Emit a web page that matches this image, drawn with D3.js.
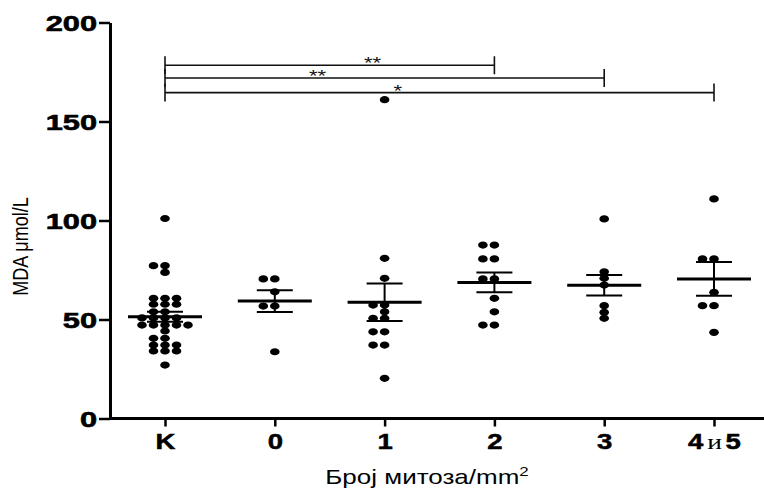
<!DOCTYPE html>
<html><head><meta charset="utf-8">
<script src="https://cdn.jsdelivr.net/npm/d3@7"></script>
<style>body{margin:0;background:#fff}svg{display:block}</style>
</head><body>
<svg id="c" width="764" height="490"></svg>
<script>
const categories = ["K","0","1","2","3","4и5"];
const valuesK  = [101, 77.2, 77.2, 73.8, 60.7, 60.7, 60.7, 57.7, 57.7, 57.7, 53.9, 53.9, 50.8, 50.8, 50.8, 50.8, 47.2, 47.2, 47.2, 47.2, 47.2, 44.2, 40.5, 40.5, 37.1, 37.1, 37.1, 34.1, 34.1, 34.1, 27];
const values0  = [70.5, 70.5, 64, 56.8, 56.8, 33.7];
const values1  = [161, 80.9, 70.8, 57.3, 57.3, 53.9, 50.6, 50.6, 43.8, 43.8, 37.1, 37.1, 20.3];
const values2  = [87.6, 87.6, 80.6, 80.6, 70.5, 70.5, 60.7, 53.9, 47.2, 47.2];
const values3  = [100.8, 74.1, 70.8, 67.4, 57, 53.6, 50.6];
const values45 = [110.9, 80.6, 80.6, 63.7, 57, 57, 43.5];
const seriesValues = [valuesK, values0, values1, values2, values3, values45];
const means = [51.4, 59.3, 58.7, 68.7, 67.3, 70.5];
const sems  = [2.5, 5.5, 9.5, 5.0, 5.2, 8.5];
const yTicks = [0, 50, 100, 150, 200];
const comparisons = [
  {from: "K", to: "2",   level: 178.4, label: "**", labelAt: 1.89},
  {from: "K", to: "3",   level: 172.0, label: "**", labelAt: 1.39},
  {from: "K", to: "4и5", level: 164.6, label: "*",  labelAt: 2.12}
];
const yTitle = "MDA μmol/L";
const xTitle = "Број митоза/mm";

const svg = d3.select("#c");
const x = d3.scalePoint().domain(categories).range([165, 714]);
const y = d3.scaleLinear().domain([0, 200]).range([418.5, 22.5]);
const xi = d3.scaleLinear().domain([0, categories.length - 1]).range(x.range());

// axes
const sxY = 1.4, sxX = 1.25;
const gy = svg.append("g").attr("transform", "translate(110,0)")
  .call(d3.axisLeft(y).tickValues(yTicks).tickSize(11).tickSizeOuter(0));
gy.select(".domain").attr("stroke", "#000").attr("stroke-width", 3);
gy.selectAll(".tick line").attr("stroke", "#000").attr("stroke-width", 2.5);
gy.selectAll(".tick text")
  .attr("x", -13 / sxY).attr("dy", "0.36em")
  .attr("transform", `scale(${sxY},1)`)
  .attr("font-family", "Liberation Sans, Arial, sans-serif")
  .attr("font-weight", "bold").attr("font-size", 22).attr("fill", "#000")
  .attr("stroke", "#000").attr("stroke-width", 0.6);

const gx = svg.append("g").attr("transform", `translate(0,${y(0)})`)
  .call(d3.axisBottom(x).tickSize(8).tickSizeOuter(0));
gx.select(".domain").remove();
gx.selectAll(".tick line").attr("stroke", "#000").attr("stroke-width", 2.5);
gx.selectAll(".tick text").remove();
gx.append("line").attr("x1", 109).attr("x2", 764).attr("y1", 0).attr("y2", 0)
  .attr("stroke", "#000").attr("stroke-width", 3);

gx.selectAll(".tick").each(function(d) {
  const t = d3.select(this).append("text")
    .attr("transform", `translate(0,30) scale(${sxX},1)`)
    .attr("text-anchor", "middle")
    .attr("font-family", "Liberation Sans, Arial, sans-serif")
    .attr("font-weight", "bold").attr("font-size", 22).attr("fill", "#000")
    .attr("stroke", "#000").attr("stroke-width", 0.5);
  if (d.includes("и")) {
    const parts = d.split("и");
    t.append("tspan").text(parts[0]);
    t.append("tspan").attr("dx", 3).attr("font-family", "Liberation Serif, serif")
      .attr("font-weight", "normal").attr("stroke-width", 0).attr("font-size", 22).text("и");
    t.append("tspan").attr("dx", 3).text(parts[1]);
  } else {
    t.text(d);
  }
});

// axis titles
svg.append("text")
  .attr("transform", `translate(28,${(y(0) + y(200)) / 2 + 26}) scale(1.25,1) rotate(-90)`)
  .attr("text-anchor", "middle")
  .attr("font-family", "Liberation Sans, Arial, sans-serif")
  .attr("font-size", 18).attr("fill", "#000").text(yTitle);

const xt = svg.append("text")
  .attr("transform", `translate(427,484) scale(1.3,1)`)
  .attr("text-anchor", "middle")
  .attr("font-family", "Liberation Sans, Arial, sans-serif")
  .attr("font-size", 20).attr("fill", "#000");
xt.append("tspan").text(xTitle);
xt.append("tspan").attr("dy", -8).attr("font-size", 13).text("2");

// beeswarm
function swarm(vals, cx) {
  const s = 11.5, dyMin = 5.5;
  const placed = [];
  vals.slice().sort((a, b) => b - a).forEach(v => {
    const py = y(v);
    for (let k = 0; k < 30; k++) {
      const m = Math.ceil(k / 2) * (k % 2 ? -1 : 1);
      const px = cx + m * s;
      if (!placed.some(p => Math.abs(p.y - py) < dyMin && Math.abs(p.x - px) < s * 0.9)) {
        placed.push({x: px, y: py});
        break;
      }
    }
  });
  return placed;
}

const plot = svg.append("g");
categories.forEach((c, i) => {
  const cx = x(c);
  plot.append("g").selectAll("ellipse").data(swarm(seriesValues[i], cx)).join("ellipse")
    .attr("cx", d => d.x).attr("cy", d => d.y).attr("rx", 4.8).attr("ry", 3.6).attr("fill", "#000");
  const m = means[i], s = sems[i];
  plot.append("line").attr("x1", cx - 37).attr("x2", cx + 37).attr("y1", y(m)).attr("y2", y(m))
    .attr("stroke", "#000").attr("stroke-width", 3);
  plot.append("line").attr("x1", cx).attr("x2", cx).attr("y1", y(m + s)).attr("y2", y(m - s))
    .attr("stroke", "#000").attr("stroke-width", 2);
  [m + s, m - s].forEach(v => {
    plot.append("line").attr("x1", cx - 18).attr("x2", cx + 18).attr("y1", y(v)).attr("y2", y(v))
      .attr("stroke", "#000").attr("stroke-width", 2);
  });
});

// significance brackets
const br = svg.append("g").attr("stroke", "#111").attr("stroke-width", 1.6).attr("fill", "none");
comparisons.forEach(c => {
  const yy = y(c.level), x1 = x(c.from), x2 = x(c.to);
  br.append("line").attr("x1", x1).attr("x2", x2).attr("y1", yy).attr("y2", yy);
  br.append("line").attr("x1", x1).attr("x2", x1).attr("y1", yy - 9).attr("y2", yy + 9);
  br.append("line").attr("x1", x2).attr("x2", x2).attr("y1", yy - 9).attr("y2", yy + 9);
  svg.append("text")
    .attr("transform", `translate(${xi(c.labelAt)},${yy + 4}) scale(1.3,1)`)
    .attr("text-anchor", "middle")
    .attr("font-family", "Liberation Sans, Arial, sans-serif")
    .attr("font-size", 17).attr("fill", "#111").text(c.label);
});
</script>
</body></html>
